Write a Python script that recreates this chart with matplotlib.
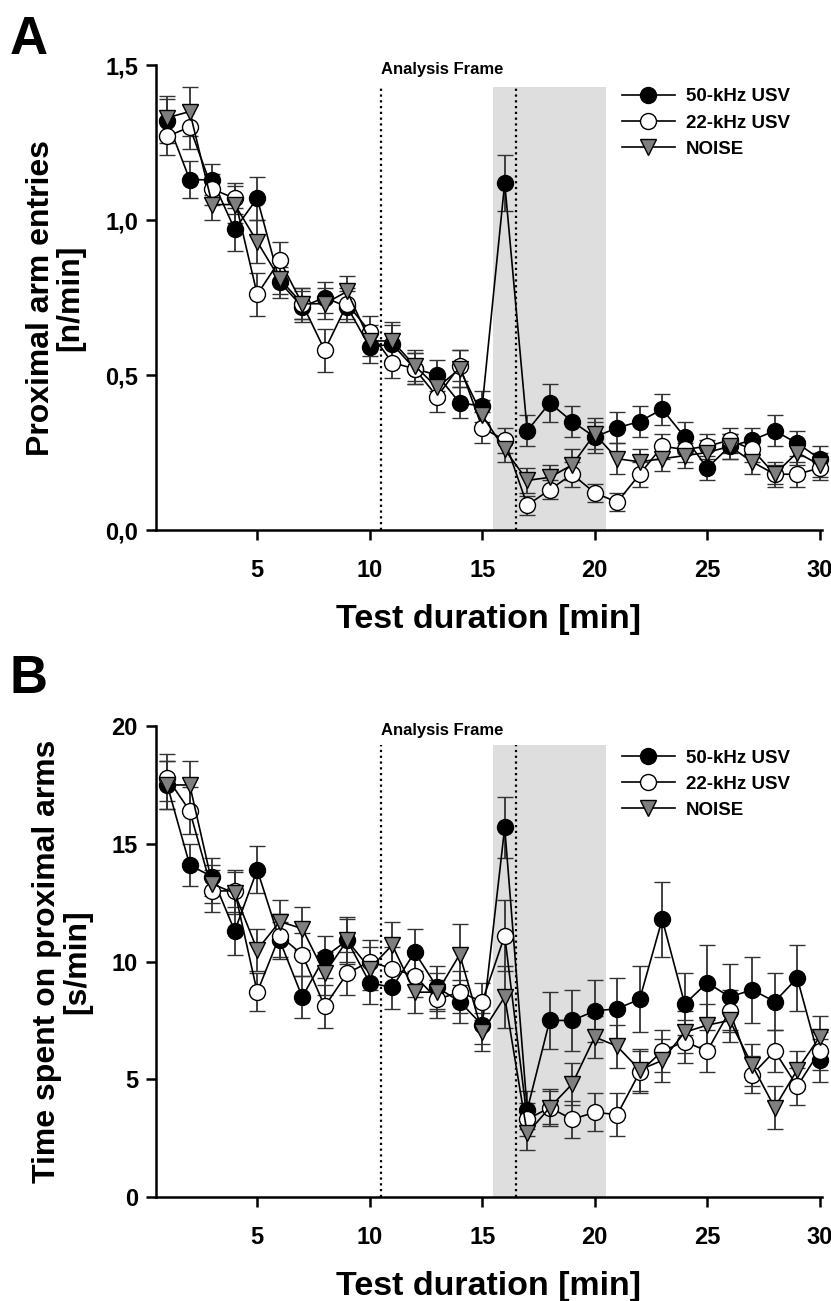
import matplotlib
matplotlib.use('Agg')
import matplotlib.pyplot as plt
import numpy as np

# minutes
minutes = np.arange(1, 31)

# panel A: proximal arm entries [n/min]
a_50k = [1.32, 1.13, 1.13, 0.97, 1.07, 0.80, 0.72, 0.75, 0.72, 0.59,
         0.60, 0.52, 0.50, 0.41, 0.40, 1.12, 0.32, 0.41, 0.35, 0.30,
         0.33, 0.35, 0.39, 0.30, 0.20, 0.27, 0.29, 0.32, 0.28, 0.23]
a_50k_err = [0.07, 0.06, 0.05, 0.07, 0.07, 0.05, 0.05, 0.05, 0.05, 0.05,
             0.06, 0.05, 0.05, 0.05, 0.05, 0.09, 0.05, 0.06, 0.05, 0.05,
             0.05, 0.05, 0.05, 0.05, 0.04, 0.04, 0.04, 0.05, 0.04, 0.04]
a_22k = [1.27, 1.30, 1.10, 1.07, 0.76, 0.87, 0.73, 0.58, 0.73, 0.64,
         0.54, 0.52, 0.43, 0.53, 0.33, 0.29, 0.08, 0.13, 0.18, 0.12,
         0.09, 0.18, 0.27, 0.26, 0.27, 0.29, 0.26, 0.18, 0.18, 0.20]
a_22k_err = [0.06, 0.07, 0.05, 0.05, 0.07, 0.06, 0.05, 0.07, 0.05, 0.05,
             0.05, 0.05, 0.05, 0.05, 0.05, 0.04, 0.03, 0.03, 0.04, 0.03,
             0.03, 0.04, 0.04, 0.04, 0.04, 0.04, 0.04, 0.03, 0.04, 0.04]
a_noise = [1.33, 1.35, 1.05, 1.05, 0.93, 0.81, 0.73, 0.73, 0.77, 0.61,
           0.61, 0.53, 0.46, 0.52, 0.37, 0.26, 0.16, 0.17, 0.21, 0.31,
           0.23, 0.22, 0.23, 0.24, 0.25, 0.27, 0.22, 0.18, 0.25, 0.21]
a_noise_err = [0.07, 0.08, 0.05, 0.06, 0.07, 0.05, 0.05, 0.05, 0.05, 0.05,
               0.06, 0.05, 0.04, 0.06, 0.05, 0.04, 0.04, 0.04, 0.05, 0.05,
               0.05, 0.04, 0.04, 0.04, 0.04, 0.04, 0.04, 0.04, 0.04, 0.04]

# panel B: time spent on proximal arms [s/min]
b_50k = [17.5, 14.1, 13.6, 11.3, 13.9, 10.9, 8.5, 10.2, 10.9, 9.1,
         8.9, 10.4, 8.9, 8.3, 7.3, 15.7, 3.7, 7.5, 7.5, 7.9,
         8.0, 8.4, 11.8, 8.2, 9.1, 8.5, 8.8, 8.3, 9.3, 5.8]
b_50k_err = [1.0, 0.9, 0.8, 1.0, 1.0, 0.8, 0.9, 0.9, 1.0, 0.9,
             0.9, 1.0, 0.9, 0.9, 0.8, 1.3, 0.8, 1.2, 1.3, 1.3,
             1.3, 1.4, 1.6, 1.3, 1.6, 1.4, 1.4, 1.2, 1.4, 0.9]
b_22k = [17.8, 16.4, 13.0, 13.0, 8.7, 11.1, 10.3, 8.1, 9.5, 10.0,
         9.7, 9.4, 8.4, 8.7, 8.3, 11.1, 3.3, 3.8, 3.3, 3.6,
         3.5, 5.3, 6.2, 6.6, 6.2, 7.9, 5.2, 6.2, 4.7, 6.2]
b_22k_err = [1.0, 1.0, 0.9, 0.9, 0.8, 0.9, 0.9, 0.9, 0.9, 0.9,
             0.9, 0.9, 0.8, 0.9, 0.8, 1.5, 0.7, 0.7, 0.8, 0.8,
             0.9, 0.9, 0.9, 0.9, 0.9, 0.9, 0.8, 0.9, 0.8, 0.8]
b_noise = [17.5, 17.5, 13.3, 12.9, 10.5, 11.7, 11.4, 9.5, 10.9, 9.7,
           10.7, 8.7, 8.7, 10.3, 7.0, 8.5, 2.7, 3.8, 4.8, 6.8,
           6.4, 5.4, 5.8, 7.0, 7.3, 7.5, 5.6, 3.8, 5.4, 6.8]
b_noise_err = [1.0, 1.0, 0.8, 0.9, 0.9, 0.9, 0.9, 0.9, 0.9, 0.9,
               1.0, 0.9, 0.8, 1.3, 0.8, 1.3, 0.7, 0.8, 0.9, 0.9,
               0.9, 0.9, 0.9, 0.9, 0.9, 0.9, 0.9, 0.9, 0.8, 0.9]

series_names = ['50-kHz USV', '22-kHz USV', 'NOISE']

plt.rcParams['font.family'] = 'Liberation Sans'
plt.rcParams['font.weight'] = 'bold'
plt.rcParams['axes.labelweight'] = 'bold'
plt.rcParams['axes.linewidth'] = 1.8

fig = plt.figure(figsize=(8.31, 13.01), dpi=100)


def draw_panel(ax, data, ylim, yticks, yticklabels, ylabel, frame_top):
    styles = [dict(marker='o', mfc='black'),
              dict(marker='o', mfc='white'),
              dict(marker='v', mfc='#7f7f7f')]
    # shaded window and dotted markers
    ax.fill_between([15.5, 20.5], 0, frame_top, color='#dedede', lw=0, zorder=0)
    ax.vlines([10.5, 16.5], 0, frame_top, colors='black', linestyles=(0, (1, 1.6)), lw=1.6, zorder=1)
    ax.text(10.5, ylim[1] * 0.99, 'Analysis Frame', fontsize=12, ha='left', va='center')
    for (vals, err), st, name in zip(data, styles, series_names):
        lines = ax.errorbar(minutes, vals, yerr=err, color='black', ecolor='#333333',
                            elinewidth=1.3, capsize=6, capthick=1.3, lw=1.2,
                            marker=st['marker'], mfc=st['mfc'], mec='black', mew=1.0,
                            ms=11.5, label=name, zorder=3)
        for art in lines.lines[:1] + lines.lines[1] + lines.lines[2]:
            art.set_clip_on(False)
    ax.set_xlim(0.5, 30.1)
    ax.set_ylim(*ylim)
    ax.set_xticks([5, 10, 15, 20, 25, 30])
    ax.set_yticks(yticks)
    ax.set_yticklabels(yticklabels)
    ax.spines['top'].set_visible(False)
    ax.spines['right'].set_visible(False)
    ax.tick_params(direction='out', length=7, width=1.8, labelsize=17, pad=6)
    ax.tick_params(axis='x', pad=14)
    ax.set_xlabel('Test duration [min]', fontsize=24.5, labelpad=16)
    ax.set_ylabel(ylabel, fontsize=23, labelpad=14, linespacing=1.0)
    # legend without error bars
    handles, labels = ax.get_legend_handles_labels()
    handles = [h[0] for h in handles]
    ax.legend(handles, labels, loc='upper left', bbox_to_anchor=(0.70, 0.95),
              frameon=False, fontsize=13.5, handlelength=2.8, handletextpad=0.6,
              labelspacing=0.48, borderpad=0, borderaxespad=0)


axA = fig.add_axes([0.1877, 0.5926, 0.8014, 0.3574])
draw_panel(axA, [(a_50k, a_50k_err), (a_22k, a_22k_err), (a_noise, a_noise_err)],
           (0, 1.5), [0, 0.5, 1.0, 1.5], ['0,0', '0,5', '1,0', '1,5'],
           'Proximal arm entries\n[n/min]', 1.43)

axB = fig.add_axes([0.1877, 0.0799, 0.8014, 0.362])
draw_panel(axB, [(b_50k, b_50k_err), (b_22k, b_22k_err), (b_noise, b_noise_err)],
           (0, 20), [0, 5, 10, 15, 20], ['0', '5', '10', '15', '20'],
           'Time spent on proximal arms\n[s/min]', 19.2)

fig.text(0.012, 0.969, 'A', fontsize=38, ha='left', va='center')
fig.text(0.012, 0.478, 'B', fontsize=38, ha='left', va='center')

plt.savefig('out.png', dpi=100)
